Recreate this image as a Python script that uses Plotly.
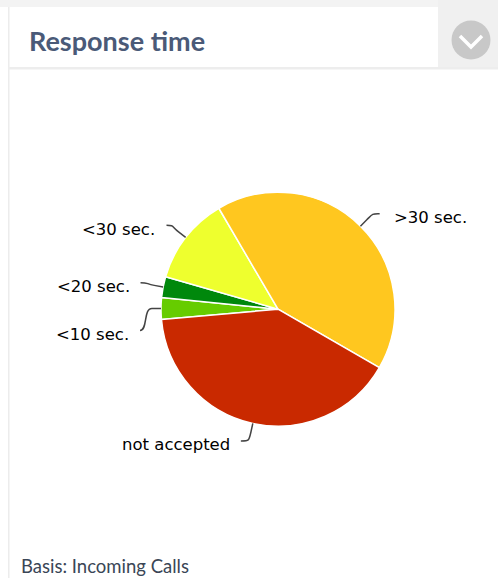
import math
import plotly.graph_objects as go

# ---------------- data ----------------
categories = ["<10 sec.", "<20 sec.", "<30 sec.", ">30 sec.", "not accepted"]
shares = [3.0, 2.9, 12.1, 41.8, 40.3]
slice_colors = ["#66CC00", "#00880C", "#EEFF2E", "#FFC71F", "#C92900"]

title_text = "Response time"
footer_text = "Basis: Incoming Calls"

# ---------------- layout constants (pixels) ----------------
W, H = 498, 578
CX, CY, R = 278.0, 309.2, 117.0
START_DEG = -95.1          # first slice starts here, clockwise from 12 o'clock
LABEL_R = R + 23           # radius where the connectors end
label_nudge = {"<10 sec.": (2, 22), "not accepted": (-7, -5),
               ">30 sec.": (3, 4), "<30 sec.": (-1, 2)}


def px(x, y):
    return x / W, 1 - y / H


def unit(deg):
    a = math.radians(deg)
    return math.sin(a), -math.cos(a)


fig = go.Figure()
fig.add_trace(go.Pie(
    labels=categories, values=shares, sort=False, direction="clockwise",
    rotation=START_DEG,
    marker=dict(colors=slice_colors, line=dict(color="white", width=1.5)),
    textinfo="none", hoverinfo="label+percent", showlegend=False,
    domain=dict(x=[(CX - R) / W, (CX + R) / W],
                y=[1 - (CY + R) / H, 1 - (CY - R) / H]),
))

shapes = []
annotations = []

# header / frame decorations
def rect(x0, y0, x1, y1, color):
    a = px(x0, y0); b = px(x1, y1)
    return dict(type="rect", xref="paper", yref="paper", x0=a[0], y0=b[1], x1=b[0], y1=a[1],
                fillcolor=color, line=dict(width=0), layer="below")

shapes.append(rect(0, 0, W, 7, "#F3F3F3"))
shapes.append(rect(438, 0, W, 69, "#F0F0F0"))
shapes.append(rect(8, 7, 9.5, H, "#ECECEC"))
shapes.append(rect(8, 67, W, 69.5, "#EDEDED"))
# icon circle
c0 = px(471 - 19.5, 40 - 19.5); c1 = px(471 + 19.5, 40 + 19.5)
shapes.append(dict(type="circle", xref="paper", yref="paper", x0=c0[0], y0=c1[1], x1=c1[0], y1=c0[1],
                   fillcolor="#C8C8C8", line=dict(width=0)))
p1 = px(460, 36); p2 = px(471, 47); p3 = px(482, 36)
shapes.append(dict(type="path", xref="paper", yref="paper",
                   path=f"M {p1[0]} {p1[1]} L {p2[0]} {p2[1]} L {p3[0]} {p3[1]}",
                   line=dict(color="white", width=3.5)))

# data labels with soft connectors, positioned from the slice angles
total = sum(shares)
acc = START_DEG
for cat, v in zip(categories, shares):
    mid = acc + 360 * v / total / 2
    acc += 360 * v / total
    ux, uy = unit(mid)
    side = 1 if ux > 0 else -1
    tx, ty = CX + R * ux, CY + R * uy                 # touching slice
    bx, by = CX + (R + 9) * ux, CY + (R + 9) * uy     # break point
    cx2, cy2 = 2 * bx - tx, 2 * by - ty
    ax, ay = CX + LABEL_R * ux, CY + LABEL_R * uy     # label end
    dx, dy = label_nudge.get(cat, (0, 0))
    ax += dx; ay += dy
    P = [px(ax, ay), px(ax - side * 8, ay), px(cx2, cy2), px(bx, by), px(tx, ty)]
    path = (f"M {P[0][0]} {P[0][1]} C {P[1][0]} {P[1][1]} {P[2][0]} {P[2][1]} "
            f"{P[3][0]} {P[3][1]} L {P[4][0]} {P[4][1]}")
    shapes.append(dict(type="path", xref="paper", yref="paper", path=path,
                       line=dict(color="#444444", width=1.5)))
    lx = ax + (12 if side > 0 else -9)
    lp = px(lx, ay + 4)
    annotations.append(dict(text=cat, xref="paper", yref="paper", x=lp[0], y=lp[1],
                            xanchor="left" if side > 0 else "right", yanchor="middle",
                            showarrow=False,
                            font=dict(family="DejaVu Sans", size=16.5, color="#000000")))

tp = px(27, 41)
annotations.append(dict(text=f"<b>{title_text}</b>", xref="paper", yref="paper", x=tp[0], y=tp[1],
                        xanchor="left", yanchor="middle", showarrow=False,
                        font=dict(family="Lato", size=27, color="#4A5A78")))
fp = px(19, 566)
annotations.append(dict(text=footer_text, xref="paper", yref="paper", x=fp[0], y=fp[1],
                        xanchor="left", yanchor="middle", showarrow=False,
                        font=dict(family="Lato", size=18.5, color="#3A4656")))

fig.update_layout(
    width=W, height=H, autosize=False,
    margin=dict(l=0, r=0, t=0, b=0, pad=0),
    paper_bgcolor="white", plot_bgcolor="white",
    shapes=shapes, annotations=annotations,
)

fig.write_html("out.html", config={"displayModeBar": False},
               post_script="document.body.style.margin='0';")
